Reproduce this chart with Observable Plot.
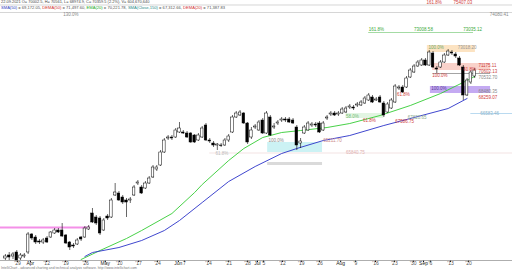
<!DOCTYPE html>
<html><head><meta charset="utf-8">
<script src="https://cdn.jsdelivr.net/npm/d3@7"></script>
<script src="https://cdn.jsdelivr.net/npm/@observablehq/plot@0.6"></script>
<style>body{margin:0;background:#fff}</style>
</head><body><div id="chart"></div>
<script>
// ---- daily candles (trading-day index 0..124) ----
const opens = [55360,55600,55520,55840,55360,55520,55840,57280,57040,56720,
56640,56960,57040,57360,57600,57600,57200,56640,56400,56480,
57040,57040,57680,58960,58640,58560,57600,58720,58640,60400,
60560,60240,60000,60000,60400,61360,61040,60960,61360,61840,
62480,62800,63840,64960,65040,65040,65440,65440,65360,65360,
65200,64800,65040,66000,64800,64560,64400,64400,64400,64800,
65440,66640,66800,66960,66160,65040,65840,65600,66400,65360,
66640,65840,66160,66400,66480,66480,66400,65840,64560,65360,
65600,66000,66080,66160,65600,66560,66880,66960,66880,66960,
67040,67440,67440,67600,67600,67760,68000,68240,68000,68240,
67760,67040,67360,67840,68960,69040,69040,69840,70240,70720,
70800,71200,70800,71760,70560,70640,71040,71600,71840,71680,
71360,70640,68400,69440,69920];
const closes = [55520,55440,55680,55200,55600,55600,57280,56960,56640,56640,
56800,56640,57440,57600,57440,57120,56560,56240,56320,56800,
56880,57760,57840,58240,58160,57360,58400,58560,60000,60640,
60000,59840,59840,60080,61040,61440,60560,61360,61760,62640,
62640,63840,64800,65040,64960,65600,65760,65360,65040,64640,
64640,65200,65760,64800,64720,64400,64480,64360,64800,65120,
66640,66960,67040,66160,64640,65600,65920,66240,65360,66960,
65200,65920,66240,66480,66400,66240,66160,64400,64720,65840,
66160,66080,66000,65440,66160,66640,66960,66800,66960,67280,
67360,67520,67360,67680,67840,68160,68400,67840,68080,67840,
66800,67680,68000,69120,69040,68640,69760,70400,70720,71040,
71200,70800,71840,70640,70480,71040,71600,71920,71760,71520,
70800,68400,69600,70240,70400];
const highs = [55680,55840,55840,56000,55760,55760,57440,57360,57200,56880,
56960,57120,57520,57760,57760,58160,57280,56720,56560,56960,
57120,57920,58000,59360,58800,58720,58560,58880,60160,61360,
60720,60400,60160,60240,61200,61600,61200,61520,61920,62800,
62800,64000,64960,65200,65200,65760,66240,65600,65520,65440,
65280,65360,65920,66160,64960,64720,64560,64560,64960,65280,
66800,67120,67200,67040,66240,65840,66080,66400,66560,67120,
66800,66160,66400,66640,66640,66640,66560,66000,64960,66000,
66320,66240,66240,66320,66320,66800,67120,67120,67120,67440,
67520,67680,67600,67840,68000,68320,68560,68400,68240,68400,
67920,67840,68160,69280,69200,69200,69920,70560,70880,71200,
71360,71360,72000,71920,70720,71200,71760,72080,72000,71840,
71520,70800,69760,70400,70560];
const lows = [55200,55200,55280,55200,55200,55360,55680,56800,56480,56480,
56480,56560,56960,57280,57360,57040,56480,56000,56160,56400,
56720,56960,57600,58160,58000,57200,57520,58400,58560,60320,
59920,59680,58640,59760,60320,61200,60480,60880,61280,61760,
62320,62720,63760,64800,64800,64960,65360,65280,64960,64560,
64560,64720,64960,64720,64560,64240,64000,64240,64320,64640,
65360,66560,66720,66080,64480,64880,65680,65520,65280,65280,
65120,65680,66000,66240,66240,66160,66080,64000,64160,65280,
65520,65840,65840,65360,65520,66400,66720,66720,66720,66880,
66960,67280,67200,67440,67520,67680,67920,67760,67920,67760,
66640,66960,67280,67760,68800,68560,68960,69760,70160,70640,
70720,70720,70720,70560,70160,70560,70960,71520,71600,71360,
70720,68000,68320,69280,69760];

// ---- moving averages ----
const emaIdx = [20,25,32,36,44,50,52,59,63,68,73,78,85,91,99,107,115,122,124];
const emaVal = [55280,56000,56960,57600,58960,60640,61280,63200,64160,65040,65440,65600,65840,66160,66800,67600,68560,69600,69920];
const smaIdx = [21,23,30,36,42,46,52,59,66,73,77,84,91,100,108,117,122];
const smaVal = [55520,55840,56240,56800,57600,58400,59840,61520,62720,63760,64160,64800,65200,66000,66640,67360,68160];

// ---- fibonacci / level overlays ----
const fullLevels = [75640, 75040];
const segValues = [73440, 70160, 66960, 63800, 57840];
const segFrom   = [96, 113, 123, 54, -1.3];
const segTo     = [123.7, 128.2, 134, 134, 22.5];
const segColors = ["#7ccc7c", "#666666", "#a8d0ec", "#f0dcdc", "#f490e8"];
const segWidths = [0.7, 0.6, 0.8, 0.8, 1.8];

const boxFrom   = [111.5, 112.9, 112.3, 90, 69.3, 69.3];
const boxTo     = [124.2, 128.2, 128.2, 100, 83.8, 83.8];
const boxTop    = [72400, 70960, 69120, 66960, 64640, 63040];
const boxBottom = [71840, 70400, 68560, 66560, 63840, 62800];
const boxFills  = ["#fce3c2", "#f9d2ca", "#c4aaf2", "#e2f5e2", "#ccf2f4", "#dadada"];

const labelText  = ["161.8%","75407.03","130.0%","74080.41","161.8%","73008.58","73035.12",
  "100.0%","73018.20","71175.11","61.8%","70602.13","100.0%","70532.70","100.0%","61.8%",
  "68480.35","68259.07","66583.46","58.0%","61.8%","67820.65","67586.75","100.0%","65211.70",
  "61.8%","65840.75"];
const labelAt    = [111.3,118.4,15.3,128,96,108,121,
  111.8,119.5,125,121,125,112.8,125,112.5,103.5,
  125,125,125.5,90,94.5,106.3,103,69.5,84,
  55.5,90];
const labelValue = [75800,75800,74840,74840,73640,73640,73640,
  72240,72240,70800,70480,70320,69960,69840,68960,68480,
  68720,68240,66960,66720,66360,66640,66280,64800,64800,
  63760,63840];
const labelColor = ["#d04040","#d04040","#888","#888","#3aaa3a","#3aaa3a","#3aaa3a",
  "#6aa86a","#999","#c44","#d04040","#c44","#d04040","#888","#5a3a9a","#d04040",
  "#888","#d04040","#8ab4cc","#77bb77","#d04040","#8aa88a","#d04040","#888","#c88",
  "#bbb","#e0b0b0"];

// ---- x-axis tick labels ----
const tickIdx = [3.2,6.6,10.9,15.9,21.2,26.4,30.1,35.2,40.2,45.7,47.3,53.7,59.0,64.0,66.6,68.2,73.2,78.2,83.0,88.6,92.5,97.8,102.8,107.8,110.5,112.3,117.6,122.4];
const tickLabels = ["'29","Apr","'12","'19","'26","May","'10","'17","'24","Jun","7","'14","'21","'28","Jul","'5","'12","'19","'26","Aug","'9","'16","'23","'30","Sep","'6","'13","'20"];
const monthNames = ["Apr","May","Jun","Jul","Aug","Sep"];

const headerRow1 = "22.09.2021 O= 70002.5, H= 70561, L= 68974.9, C= 70359.5 (2.2%), V= 604,670,640";
const headerRow2 = [["SMA(50)","#3040c0"],[" = 69,172.05, ","#555"],["DEMA(50)","#d03030"],[" = 71,497.60, ","#555"],
  ["EMA(20)","#22aa22"],[" = 70,221.78, ","#555"],["SMA(Close,150)","#2a8a8a"],[" = 67,312.66, ","#555"],
  ["DEMA(20)","#d03030"],[" = 71,387.83","#555"]];
const footerText = "IntelliChart - advanced charting and technical analysis software. http://www.intellichart.com";

// ---- build tables ----
const candles = opens.map((o, i) => ({i, o, c: closes[i], h: highs[i], l: lows[i]}));
const ema = emaIdx.map((i, k) => ({i, v: emaVal[k]}));
const sma = smaIdx.map((i, k) => ({i, v: smaVal[k]}));
const segs = segValues.map((v, k) => ({v, from: segFrom[k], to: segTo[k], c: segColors[k], w: segWidths[k]}));
const boxes = boxFrom.map((f, k) => ({from: f, to: boxTo[k], top: boxTop[k], bottom: boxBottom[k], fill: boxFills[k]}));
const labels = labelText.map((t, k) => ({t, i: labelAt[k], v: labelValue[k], c: labelColor[k]}));
const ticks = tickIdx.map((i, k) => ({i, t: tickLabels[k], c: monthNames.includes(tickLabels[k]) ? "#222" : "#555"}));
const yDomain = [55200, 76000];
const font = "Liberation Sans, Arial, sans-serif";

const chart = Plot.plot({
  width: 512, height: 270,
  marginTop: 0, marginRight: 0, marginBottom: 10, marginLeft: 0,
  x: {domain: [-1.3, 134], ticks: tickIdx, tickFormat: () => "", tickSize: 2, label: null},
  y: {domain: yDomain, axis: null},
  color: {type: "identity"},
  style: {fontFamily: font, background: "#fff"},
  marks: [
    Plot.rect(boxes, {x1: "from", x2: "to", y1: "bottom", y2: "top", fill: "fill"}),
    Plot.ruleY(fullLevels, {stroke: "#c4c4c4", strokeWidth: 0.7}),
    Plot.ruleY(segs, {y: "v", x1: "from", x2: "to", stroke: "c", strokeWidth: "w"}),
    Plot.ruleY([yDomain[0]], {stroke: "#999", strokeWidth: 0.8}),
    Plot.line(ema, {x: "i", y: "v", stroke: "#33cc33", strokeWidth: 0.9}),
    Plot.line(sma, {x: "i", y: "v", stroke: "#2a32c8", strokeWidth: 0.9}),
    Plot.ruleX(candles, {x: "i", y1: "l", y2: "h", stroke: "#000", strokeWidth: 0.6}),
    Plot.rect(candles, {x1: d => d.i - 0.34, x2: d => d.i + 0.34, y1: "o", y2: "c",
      fill: d => d.c >= d.o ? "#fff" : "#000", stroke: "#000", strokeWidth: 0.5}),
    Plot.text(labels, {x: "i", y: "v", text: "t", fill: "c", textAnchor: "start", fontSize: 4.5, fontFamily: font}),
    Plot.text(ticks, {x: "i", frameAnchor: "bottom", dy: 4, text: "t", fill: "c", fontSize: 5, fontFamily: font})
  ]
});
document.getElementById("chart").appendChild(chart);

const svg = d3.select(chart);
svg.append("text").attr("x", 1).attr("y", 3.4).attr("font-size", 3.95).attr("font-family", font)
  .attr("text-anchor", "start").attr("fill", "#444").text(headerRow1);
const h2 = svg.append("text").attr("x", 1).attr("y", 9.4).attr("font-size", 4.1).attr("font-family", font)
  .attr("text-anchor", "start");
headerRow2.forEach(([t, c]) => h2.append("tspan").attr("fill", c).text(t));
svg.append("text").attr("x", 1).attr("y", 269).attr("font-size", 3.4).attr("font-family", font)
  .attr("text-anchor", "start").attr("fill", "#777").text(footerText);
</script>
</body></html>
